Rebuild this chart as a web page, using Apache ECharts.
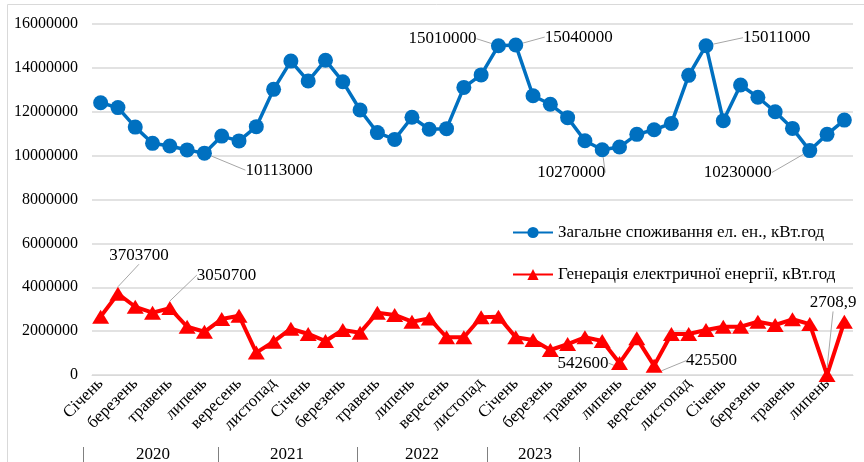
<!DOCTYPE html>
<html>
<head>
<meta charset="utf-8">
<script src="https://cdn.jsdelivr.net/npm/echarts@6/dist/echarts.min.js"></script>
<style>
html, body { margin: 0; padding: 0; background: #fff; }
#main { width: 864px; height: 462px; }
</style>
</head>
<body>
<div id="main"></div>
<script>
var months = ['Січень','лютий','березень','квітень','травень','червень','липень','серпень','вересень','жовтень','листопад','грудень'];
var years = ['2020', '2021', '2022', '2023'];
var yTicks = [0, 2000000, 4000000, 6000000, 8000000, 10000000, 12000000, 14000000, 16000000];

// загальне споживання, кВт.год (січень 2020 - серпень 2023)
var consumption = [
    12410000, 12190000, 11300000, 10560000, 10440000, 10260000, 10113000, 10890000, 10670000, 11320000, 13020000, 14310000,
    13400000, 14350000, 13370000, 12080000, 11050000, 10740000, 11750000, 11200000, 11230000, 13110000, 13680000, 15010000,
    15040000, 12730000, 12340000, 11730000, 10680000, 10270000, 10390000, 10970000, 11180000, 11470000, 13660000, 15011000,
    11590000, 13220000, 12660000, 12000000, 11240000, 10230000, 10970000, 11620000
];
// генерація електричної енергії, кВт.год
var generation = [
    2660000, 3703700, 3110000, 2840000, 3050700, 2200000, 1970000, 2550000, 2700000, 1020000, 1520000, 2110000,
    1870000, 1550000, 2050000, 1930000, 2840000, 2740000, 2430000, 2580000, 1720000, 1720000, 2630000, 2660000,
    1720000, 1600000, 1140000, 1410000, 1720000, 1550000, 542600, 1670000, 425500, 1870000, 1870000, 2050000,
    2200000, 2200000, 2430000, 2280000, 2540000, 2320000, 2708.9, 2430000
];
var consumptionLabelled = [6, 23, 24, 29, 35, 41];
var generationLabelled = [1, 4, 30, 32, 42];

var categories = [];
for (var i = 0; i < consumption.length; i++) {
    categories.push(months[i % 12]);
}

// label offsets from the point: [dx, dy, align]
var labelPos = {
    '0-6': [41, 17, 'left'],
    '0-23': [-22, -7, 'right'],
    '0-24': [29, -8, 'left'],
    '0-29': [3, 23, 'right'],
    '0-35': [37, -8, 'left'],
    '0-41': [-38, 22, 'right'],
    '1-1': [21, -38, 'center'],
    '1-4': [27, -33, 'left'],
    '1-30': [-11, 0, 'right'],
    '1-32': [32, -5, 'left'],
    '1-42': [6, -72, 'center']
};

function withLabels(values, labelled) {
    var out = [];
    for (var i = 0; i < values.length; i++) {
        if (labelled.indexOf(i) >= 0) {
            out.push({ value: values[i], label: { show: true } });
        } else {
            out.push(values[i]);
        }
    }
    return out;
}

function fmt(p) {
    return String(p.value).replace('.', ',');
}

var serif = '"Liberation Serif", "DejaVu Serif", serif';

var dom = document.getElementById('main');
var myChart = echarts.init(dom);

var graphics = [
    { type: 'rect', shape: { x: 7.5, y: 4.5, width: 900, height: 500 }, style: { fill: null, stroke: '#d9d9d9', lineWidth: 1 }, silent: true }
];
var yearCenters = [153, 287, 422, 535];
var yearSeps = [83, 218, 357, 487, 579];
for (var s = 0; s < yearSeps.length; s++) {
    graphics.push({ type: 'line', shape: { x1: yearSeps[s] + 0.5, y1: 447, x2: yearSeps[s] + 0.5, y2: 462 }, style: { stroke: '#808080', lineWidth: 1 }, silent: true });
}
for (var y = 0; y < years.length; y++) {
    graphics.push({ type: 'text', x: yearCenters[y], y: 455, style: { text: years[y], font: '17px ' + serif, fill: '#000', align: 'center', verticalAlign: 'middle' }, silent: true });
}

option = {
    animation: false,
    textStyle: { fontFamily: serif },
    graphic: graphics,
    legend: {
        orient: 'vertical',
        left: 507,
        top: 219,
        itemGap: 25,
        itemWidth: 40,
        itemHeight: 14,
        textStyle: { fontSize: 17, color: '#000', fontFamily: serif },
        data: [
            'Загальне споживання ел. ен., кВт.год',
            'Генерація електричної енергії, кВт.год'
        ]
    },
    grid: {
        left: 92,
        right: 11,
        top: 24,
        bottom: 87
    },
    xAxis: [
        {
            type: 'category',
            data: categories,
            axisTick: { show: false },
            axisLine: { show: true, lineStyle: { color: '#d9d9d9', width: 1 } },
            axisLabel: {
                interval: 1,
                rotate: 45,
                margin: 6,
                fontSize: 17,
                color: '#000',
                fontFamily: serif
            }
        }
    ],
    yAxis: [
        {
            type: 'value',
            min: yTicks[0],
            max: yTicks[yTicks.length - 1],
            interval: 2000000,
            axisLine: { show: false },
            axisTick: { show: false },
            splitLine: { lineStyle: { color: '#d9d9d9', width: 1.5 } },
            axisLabel: {
                fontSize: 16, color: '#000', margin: 14, fontFamily: serif,
                formatter: function (v) { return String(v); }
            }
        }
    ],
    series: [
        {
            name: 'Загальне споживання ел. ен., кВт.год',
            type: 'line',
            data: withLabels(consumption, consumptionLabelled),
            symbol: 'circle',
            symbolSize: 15,
            showAllSymbol: true,
            itemStyle: { color: '#0070c0' },
            lineStyle: { color: '#0070c0', width: 3.5 },
            label: { show: false, formatter: fmt, fontSize: 17, color: '#000', fontFamily: serif },
            labelLine: { show: true, lineStyle: { color: '#a6a6a6', width: 1 } }
        },
        {
            name: 'Генерація електричної енергії, кВт.год',
            type: 'line',
            data: withLabels(generation, generationLabelled),
            symbol: 'triangle',
            symbolSize: [17, 14],
            showAllSymbol: true,
            itemStyle: { color: '#ff0000' },
            lineStyle: { color: '#ff0000', width: 4 },
            label: { show: false, formatter: fmt, fontSize: 17, color: '#000', fontFamily: serif },
            labelLine: { show: true, lineStyle: { color: '#a6a6a6', width: 1 } }
        }
    ],
    labelLayout: function (params) {
        var key = params.seriesIndex + '-' + params.dataIndex;
        var p = labelPos[key];
        if (!p) {
            return {};
        }
        var cx = params.rect.x + params.rect.width / 2;
        var cy = params.rect.y + params.rect.height / 2;
        return { x: cx + p[0], y: cy + p[1], align: p[2], verticalAlign: 'middle' };
    }
};

myChart.setOption(option, true);
</script>
</body>
</html>
